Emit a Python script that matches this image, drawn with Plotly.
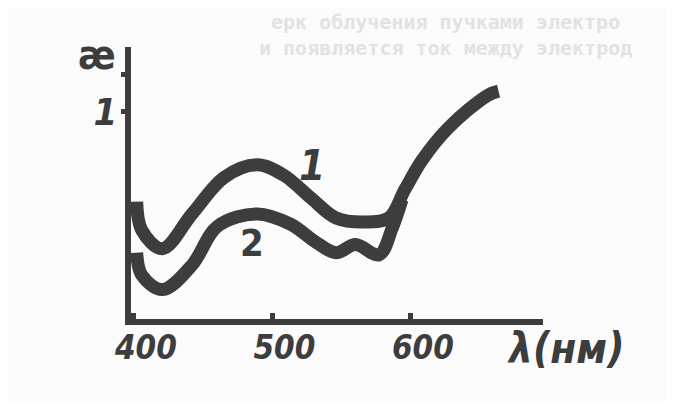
import plotly.graph_objects as go

# Curve 1
lam1 = [402, 405.7, 420.6, 442, 465.5, 489, 508, 527.4, 546, 565, 584, 595.7, 607.8, 627, 655.5, 663.3]
val1 = [0.56, 0.42, 0.33, 0.50, 0.68, 0.74, 0.69, 0.58, 0.48, 0.46, 0.48, 0.62, 0.76, 0.92, 1.08, 1.10]
# Curve 2
lam2 = [402, 405.7, 420.6, 442, 460.5, 489, 513, 531.7, 546, 560, 577, 586.5, 593.6]
val2 = [0.31, 0.20, 0.13, 0.25, 0.44, 0.50, 0.45, 0.36, 0.31, 0.35, 0.30, 0.43, 0.57]

x_ticks = [400, 500, 600]
x_ticktext = ["400", "500", "600"]
y_ticks = [1, 1.18]
y_ticktext = ["1", ""]

ink = "#3d3d3d"
hand = "DejaVu Sans Condensed, sans-serif"

# page has an 8px body margin: figure is 658x395 inside the 674x411 window
OFF = 8
W, H = 658, 395
L = 131 - OFF
T = 47 - OFF
R = W - (543 - OFF)
B = H - (319 - OFF)

fig = go.Figure()
for lx, vy in ((lam1, val1), (lam2, val2)):
    fig.add_trace(go.Scatter(x=lx, y=vy, mode="lines",
                             line=dict(color=ink, width=13, shape="spline", smoothing=1.0),
                             hoverinfo="skip", showlegend=False, cliponaxis=False))

fig.update_layout(
    template="none",
    width=W, height=H,
    margin=dict(l=L, r=R, t=T, b=B, autoexpand=False),
    paper_bgcolor="#fbfbfb", plot_bgcolor="rgba(0,0,0,0)",
    xaxis=dict(range=[397.9, 695.4], showgrid=False, zeroline=False, automargin=False,
               showline=True, linewidth=6, linecolor=ink,
               tickvals=x_ticks, ticktext=x_ticktext,
               ticks="inside", ticklen=6, tickwidth=5, tickcolor=ink,
               ticklabelshift=12, ticklabelstandoff=-6,
               tickfont=dict(family=hand, size=33, color=ink, weight="bold", style="italic")),
    yaxis=dict(range=[-0.014, 1.316], showgrid=False, zeroline=False, automargin=False,
               showline=True, linewidth=6, linecolor=ink,
               tickvals=y_ticks, ticktext=y_ticktext,
               ticks="outside", ticklen=4, tickwidth=5, tickcolor=ink,
               ticklabelstandoff=-4,
               tickfont=dict(family=hand, size=38, color=ink, weight="bold", style="italic")),
)


def px2paper(px, py):
    px -= OFF
    py -= OFF
    return (px - L) / (W - L - R), (H - B - py) / (H - T - B)


annos = [
    dict(x=565, y=348, text="λ(нм)", size=42, color=ink, fam=hand, style="italic"),
    dict(x=97, y=55, text="æ", size=40, color=ink, fam=hand, style="normal"),
    dict(x=312, y=165, text="1", size=42, color=ink, fam=hand, style="italic"),
    dict(x=252, y=243, text="2", size=38, color=ink, fam=hand, style="normal"),
    dict(x=445, y=22, text="ерк облучения пучками электро", size=20, color="#e2e2e2",
         fam="DejaVu Sans Mono", style="normal"),
    dict(x=445, y=48, text="и появляется ток между электрод", size=20, color="#e2e2e2",
         fam="DejaVu Sans Mono", style="normal"),
]
for a in annos:
    xp, yp = px2paper(a["x"], a["y"])
    fig.add_annotation(x=xp, y=yp, xref="paper", yref="paper", text=a["text"],
                       xanchor="center", yanchor="middle", showarrow=False,
                       font=dict(family=a["fam"], size=a["size"], color=a["color"],
                                 weight="bold", style=a["style"]))

fig.write_html("out.html")
